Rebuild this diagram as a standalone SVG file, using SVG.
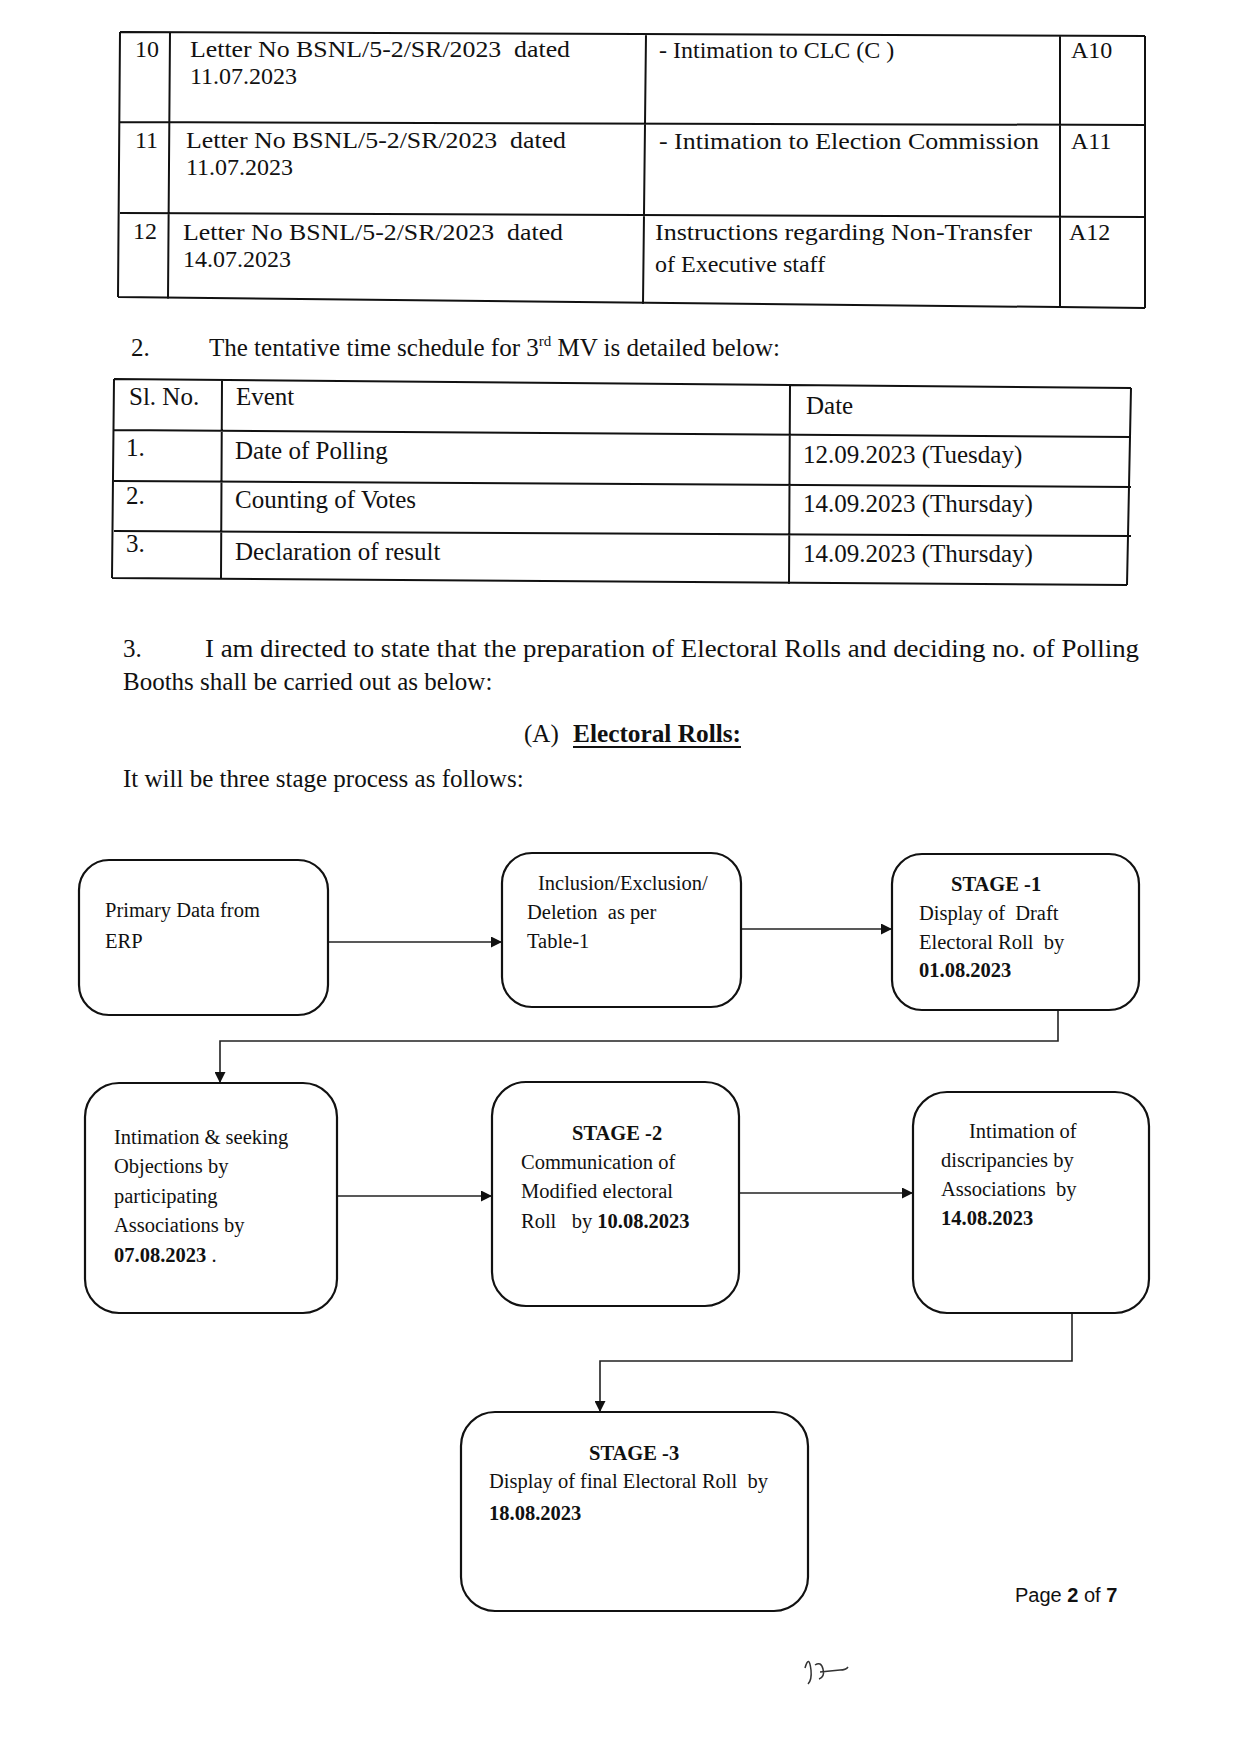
<svg xmlns="http://www.w3.org/2000/svg" width="1241" height="1754" viewBox="0 0 1241 1754">
<style>
.t{font-family:"Liberation Serif","Times New Roman",serif;font-size:25px;fill:#111}
.t2{font-family:"Liberation Serif","Times New Roman",serif;font-size:24px;fill:#111}
.f{font-family:"Liberation Serif","Times New Roman",serif;font-size:20.5px;fill:#111}
.b{font-weight:bold}
.ln{stroke:#111;stroke-width:2;fill:none}
.box{stroke:#111;stroke-width:2.2;fill:none}
.con{stroke:#222;stroke-width:1.6;fill:none}
.pg{font-family:"Liberation Sans",Arial,sans-serif;font-size:20px;fill:#111}
</style>
<defs>
<marker id="ah" viewBox="0 0 10 10" refX="10" refY="5" markerWidth="11" markerHeight="11" markerUnits="userSpaceOnUse" orient="auto">
<path d="M0,0 L10,5 L0,10 z" fill="#111"/>
</marker>
</defs>
<rect width="1241" height="1754" fill="#fff"/>

<g id="table1">
<path class="ln" d="M120,32 L1145,36 M120,122 L1145,125 M120,213 L1145,217 M118,297 L1145,308 M120,32 L118,297 M170,32 L168,299 M646,34 L643,304 M1060,35 L1060,306 M1145,36 L1145,308"/>
<text class="t2" x="135" y="57">10</text>
<text class="t2" x="190" y="57" textLength="380" lengthAdjust="spacingAndGlyphs" xml:space="preserve">Letter No BSNL/5-2/SR/2023  dated</text>
<text class="t2" x="190" y="84">11.07.2023</text>
<text class="t2" x="659" y="58">- Intimation to CLC (C )</text>
<text class="t2" x="1071" y="58">A10</text>
<text class="t2" x="135" y="148">11</text>
<text class="t2" x="186" y="148" textLength="380" lengthAdjust="spacingAndGlyphs" xml:space="preserve">Letter No BSNL/5-2/SR/2023  dated</text>
<text class="t2" x="186" y="175">11.07.2023</text>
<text class="t2" x="659" y="149" textLength="380" lengthAdjust="spacingAndGlyphs">- Intimation to Election Commission</text>
<text class="t2" x="1071" y="149">A11</text>
<text class="t2" x="133" y="239">12</text>
<text class="t2" x="183" y="240" textLength="380" lengthAdjust="spacingAndGlyphs" xml:space="preserve">Letter No BSNL/5-2/SR/2023  dated</text>
<text class="t2" x="183" y="267">14.07.2023</text>
<text class="t2" x="655" y="240" textLength="377" lengthAdjust="spacingAndGlyphs">Instructions regarding Non-Transfer</text>
<text class="t2" x="655" y="272">of Executive staff</text>
<text class="t2" x="1069" y="240">A12</text>
</g>

<g id="para2">
<text class="t" x="131" y="356">2.</text>
<text class="t" x="209" y="356">The tentative time schedule for 3<tspan font-size="15" dy="-10">rd</tspan><tspan dy="10"> MV is detailed below:</tspan></text>
</g>

<g id="table2">
<path class="ln" d="M114,379 L1131,388 M114,430 L1131,437 M114,481 L1131,487 M114,531 L1131,536 M112,578 L1127,585 M114,379 L112,578 M222,380 L221,580 M790,386 L789,584 M1131,388 L1127,585"/>
<text class="t" x="129" y="405">Sl. No.</text>
<text class="t" x="236" y="405">Event</text>
<text class="t" x="806" y="414">Date</text>
<text class="t" x="126" y="456">1.</text>
<text class="t" x="235" y="459">Date of Polling</text>
<text class="t" x="803" y="463">12.09.2023 (Tuesday)</text>
<text class="t" x="126" y="504">2.</text>
<text class="t" x="235" y="508">Counting of Votes</text>
<text class="t" x="803" y="512">14.09.2023 (Thursday)</text>
<text class="t" x="126" y="552">3.</text>
<text class="t" x="235" y="560">Declaration of result</text>
<text class="t" x="803" y="562">14.09.2023 (Thursday)</text>
</g>

<g id="para3">
<text class="t" x="123" y="657">3.</text>
<text class="t" x="205" y="657" textLength="934" lengthAdjust="spacingAndGlyphs">I am directed to state that the preparation of Electoral Rolls and deciding no. of Polling</text>
<text class="t" x="123" y="690">Booths shall be carried out as below:</text>
<text class="t" x="524" y="742">(A)</text>
<text class="t b" x="573" y="742" textLength="168" lengthAdjust="spacingAndGlyphs">Electoral Rolls:</text>
<line class="ln" x1="573" y1="747" x2="741" y2="747" stroke-width="1.8"/>
<text class="t" x="123" y="787">It will be three stage process as follows:</text>
</g>

<g id="connectors">
<line class="con" x1="328" y1="942" x2="502" y2="942" marker-end="url(#ah)"/>
<line class="con" x1="741" y1="929" x2="892" y2="929" marker-end="url(#ah)"/>
<polyline class="con" points="1058,1010 1058,1041 220,1041 220,1083" marker-end="url(#ah)"/>
<line class="con" x1="337" y1="1196" x2="492" y2="1196" marker-end="url(#ah)"/>
<line class="con" x1="739" y1="1193" x2="913" y2="1193" marker-end="url(#ah)"/>
<polyline class="con" points="1072,1313 1072,1361 600,1361 600,1412" marker-end="url(#ah)"/>
</g>

<g id="nodeA">
<rect class="box" x="79" y="860" width="249" height="155" rx="30"/>
<text class="f" x="105" y="917">Primary Data from</text>
<text class="f" x="105" y="948">ERP</text>
</g>
<g id="nodeB">
<rect class="box" x="502" y="853" width="239" height="154" rx="30"/>
<text class="f" x="538" y="890">Inclusion/Exclusion/</text>
<text class="f" x="527" y="919" xml:space="preserve">Deletion  as per</text>
<text class="f" x="527" y="948">Table-1</text>
</g>
<g id="nodeC">
<rect class="box" x="892" y="854" width="247" height="156" rx="30"/>
<text class="f b" x="951" y="891">STAGE -1</text>
<text class="f" x="919" y="920" xml:space="preserve">Display of  Draft</text>
<text class="f" x="919" y="949" xml:space="preserve">Electoral Roll  by</text>
<text class="f b" x="919" y="977">01.08.2023</text>
</g>
<g id="nodeD">
<rect class="box" x="85" y="1083" width="252" height="230" rx="34"/>
<text class="f" x="114" y="1144">Intimation &amp; seeking</text>
<text class="f" x="114" y="1173">Objections by</text>
<text class="f" x="114" y="1203">participating</text>
<text class="f" x="114" y="1232">Associations by</text>
<text class="f" x="114" y="1262"><tspan class="b">07.08.2023</tspan> .</text>
</g>
<g id="nodeE">
<rect class="box" x="492" y="1082" width="247" height="224" rx="34"/>
<text class="f b" x="572" y="1140">STAGE -2</text>
<text class="f" x="521" y="1169">Communication of</text>
<text class="f" x="521" y="1198">Modified electoral</text>
<text class="f" x="521" y="1228" xml:space="preserve">Roll   by <tspan class="b">10.08.2023</tspan></text>
</g>
<g id="nodeF">
<rect class="box" x="913" y="1092" width="236" height="221" rx="34"/>
<text class="f" x="969" y="1138">Intimation of</text>
<text class="f" x="941" y="1167">discripancies by</text>
<text class="f" x="941" y="1196" xml:space="preserve">Associations  by</text>
<text class="f b" x="941" y="1225">14.08.2023</text>
</g>
<g id="nodeG">
<rect class="box" x="461" y="1412" width="347" height="199" rx="34"/>
<text class="f b" x="589" y="1460">STAGE -3</text>
<text class="f" x="489" y="1488" xml:space="preserve">Display of final Electoral Roll  by</text>
<text class="f b" x="489" y="1520">18.08.2023</text>
</g>

<text class="pg" x="1015" y="1602">Page <tspan font-weight="bold">2</tspan> of <tspan font-weight="bold">7</tspan></text>
<path d="M805,1668 q4,-14 6,2 q1,10 -3,14 M815,1665 q6,-4 8,4 q2,8 -4,10 M820,1672 l20,-2 q6,0 8,-3" stroke="#333" stroke-width="1.5" fill="none"/>
</svg>
